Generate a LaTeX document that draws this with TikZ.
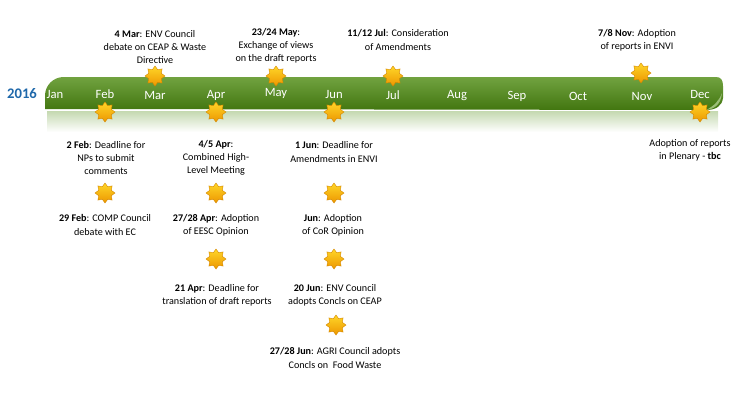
\documentclass[tikz,border=0pt]{standalone}
\usepackage{fontspec}
\setmainfont{Carlito}
\usetikzlibrary{shapes.geometric}

\definecolor{bargreen}{RGB}{88,146,30}
\definecolor{bardark}{RGB}{66,118,16}
\definecolor{yearblue}{RGB}{31,104,170}
\definecolor{sunyellow}{RGB}{255,214,40}
\definecolor{sunorange}{RGB}{236,150,0}

\begin{document}
\begin{tikzpicture}[x=0.75pt,y=-0.75pt,
  sun/.style={star,star points=8,star point ratio=1.45,minimum size=15pt,inner sep=0pt,
    top color=sunyellow,bottom color=sunorange,draw=sunorange!90!black,line width=0.3pt},
  month/.style={font=\fontsize{9.5}{11}\selectfont,text=white},
  event/.style={align=center,font=\fontsize{7.6}{9.8}\selectfont,inner sep=0pt}]
  \useasboundingbox (0,0) rectangle (751,400);

  % the bar and its reflection
  \shade[top color=bargreen!35,bottom color=white] (47,111) rectangle (718,132);
  \shade[top color=bargreen!85!white,bottom color=bardark]
    (45,109) [rounded corners=14pt] -- (45,77) [sharp corners] -- (716,77)
    .. controls (721,77) and (723,80) .. (723,86) -- (723,98)
    .. controls (722,106) and (716,110) .. (706,110) -- cycle;
  \fill[bargreen!60!white] (706,110) .. controls (714,106) and (719,101) .. (722,93)
    .. controls (721,104) and (715,109) .. (706,110) -- cycle;

  \node[font=\fontsize{11}{13}\selectfont\bfseries,text=yearblue] (year) at (22,94) {2016};
  \node[month] (jan) at (55,94) {Jan};
  \node[month] (feb) at (105,94) {Feb};
  \node[month] (mar) at (155,95) {Mar};
  \node[month] (apr) at (216,95) {Apr};
  \node[month] (may) at (276,93) {May};
  \node[month] (jun) at (334,94) {Jun};
  \node[month] (jul) at (393,95) {Jul};
  \node[month] (aug) at (457,96) {Aug};
  \node[month] (sep) at (517,96) {Sep};
  \node[month] (oct) at (578,96) {Oct};
  \node[month] (nov) at (642,96) {Nov};
  \node[month] (dec) at (700,94) {Dec};

  \node[sun] (sun mar) at (155,76) {};
  \node[sun] (sun may) at (276,76) {};
  \node[sun] (sun jul) at (393,76) {};
  \node[sun] (sun nov) at (641,73) {};
  \node[sun] (sun feb) at (105,112) {};
  \node[sun] (sun apr) at (216,112) {};
  \node[sun] (sun jun) at (334,112) {};
  \node[sun] (sun dec) at (700,112) {};
  \node[sun] (sun feb2) at (105,193) {};
  \node[sun] (sun apr2) at (216,193) {};
  \node[sun] (sun jun2) at (334,193) {};
  \node[sun] (sun apr3) at (216,259) {};
  \node[sun] (sun jun3) at (334,259) {};
  \node[sun] (sun jun4) at (336,325) {};

  \node[event] (ev mar) at (155,47) {\textbf{4 Mar}: ENV Council\\debate on CEAP \& Waste\\Directive};
  \node[event] (ev may) at (276,46) {\textbf{23/24 May}:\\Exchange of views\\on the draft reports};
  \node[event] (ev jul) at (398,40) {\textbf{11/12 Jul}: Consideration\\of Amendments};
  \node[event] (ev nov) at (637,40) {\textbf{7/8 Nov}: Adoption\\of reports in ENVI};
  \node[event] (ev feb) at (106,158) {\textbf{2 Feb}: Deadline for\\NPs to submit\\comments};
  \node[event] (ev apr) at (216,158) {\textbf{4/5 Apr}:\\Combined High-\\Level Meeting};
  \node[event] (ev jun) at (334,152) {\textbf{1 Jun}: Deadline for\\Amendments in ENVI};
  \node[event] (ev dec) at (690,150) {Adoption of reports\\in Plenary - \textbf{tbc}};
  \node[event] (ev feb2) at (105,225) {\textbf{29 Feb}: COMP Council\\debate with EC};
  \node[event] (ev apr2) at (216,225) {\textbf{27/28 Apr}: Adoption\\of EESC Opinion};
  \node[event] (ev jun2) at (333,225) {\textbf{Jun}: Adoption\\of CoR Opinion};
  \node[event] (ev apr3) at (217,295) {\textbf{21 Apr}: Deadline for\\translation of draft reports};
  \node[event] (ev jun3) at (335,295) {\textbf{20 Jun}: ENV Council\\adopts Concls on CEAP};
  \node[event] (ev jun4) at (335,358) {\textbf{27/28 Jun}: AGRI Council adopts\\Concls on\ \ Food Waste};
\end{tikzpicture}
\end{document}
